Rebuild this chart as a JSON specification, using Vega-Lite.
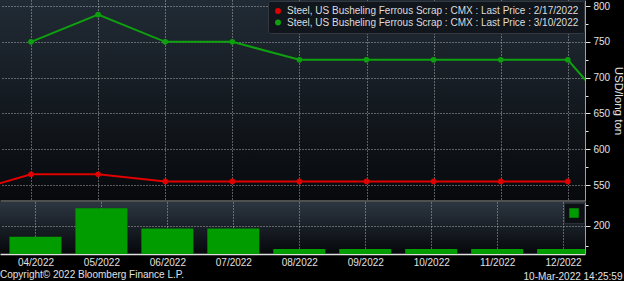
{
  "$schema": "https://vega.github.io/schema/vega-lite/v6.json",
  "background": "#000000",
  "padding": 0,
  "spacing": 1,
  "datasets": {
    "prices": [
      {"m": 3, "series": "Steel, US Busheling Ferrous Scrap : CMX : Last Price : 2/17/2022", "price": 538},
      {"m": 4, "series": "Steel, US Busheling Ferrous Scrap : CMX : Last Price : 2/17/2022", "price": 565},
      {"m": 5, "series": "Steel, US Busheling Ferrous Scrap : CMX : Last Price : 2/17/2022", "price": 565},
      {"m": 6, "series": "Steel, US Busheling Ferrous Scrap : CMX : Last Price : 2/17/2022", "price": 555},
      {"m": 7, "series": "Steel, US Busheling Ferrous Scrap : CMX : Last Price : 2/17/2022", "price": 555},
      {"m": 8, "series": "Steel, US Busheling Ferrous Scrap : CMX : Last Price : 2/17/2022", "price": 555},
      {"m": 9, "series": "Steel, US Busheling Ferrous Scrap : CMX : Last Price : 2/17/2022", "price": 555},
      {"m": 10, "series": "Steel, US Busheling Ferrous Scrap : CMX : Last Price : 2/17/2022", "price": 555},
      {"m": 11, "series": "Steel, US Busheling Ferrous Scrap : CMX : Last Price : 2/17/2022", "price": 555},
      {"m": 12, "series": "Steel, US Busheling Ferrous Scrap : CMX : Last Price : 2/17/2022", "price": 555},
      {"m": 4, "series": "Steel, US Busheling Ferrous Scrap : CMX : Last Price : 3/10/2022", "price": 750},
      {"m": 5, "series": "Steel, US Busheling Ferrous Scrap : CMX : Last Price : 3/10/2022", "price": 788},
      {"m": 6, "series": "Steel, US Busheling Ferrous Scrap : CMX : Last Price : 3/10/2022", "price": 750},
      {"m": 7, "series": "Steel, US Busheling Ferrous Scrap : CMX : Last Price : 3/10/2022", "price": 750},
      {"m": 8, "series": "Steel, US Busheling Ferrous Scrap : CMX : Last Price : 3/10/2022", "price": 725},
      {"m": 9, "series": "Steel, US Busheling Ferrous Scrap : CMX : Last Price : 3/10/2022", "price": 725},
      {"m": 10, "series": "Steel, US Busheling Ferrous Scrap : CMX : Last Price : 3/10/2022", "price": 725},
      {"m": 11, "series": "Steel, US Busheling Ferrous Scrap : CMX : Last Price : 3/10/2022", "price": 725},
      {"m": 12, "series": "Steel, US Busheling Ferrous Scrap : CMX : Last Price : 3/10/2022", "price": 725},
      {"m": 13, "series": "Steel, US Busheling Ferrous Scrap : CMX : Last Price : 3/10/2022", "price": 617}
    ],
    "volume": [
      {"m": 4, "s": "volume", "v": 173},
      {"m": 5, "s": "volume", "v": 243},
      {"m": 6, "s": "volume", "v": 193},
      {"m": 7, "s": "volume", "v": 193},
      {"m": 8, "s": "volume", "v": 143},
      {"m": 9, "s": "volume", "v": 143},
      {"m": 10, "s": "volume", "v": 143},
      {"m": 11, "s": "volume", "v": 143},
      {"m": 12, "s": "volume", "v": 143}
    ]
  },
  "config": {
    "font": "Liberation Sans",
    "view": {"stroke": null},
    "axis": {
      "labelColor": "#e0e0e0",
      "labelFont": "Liberation Sans",
      "labelFontSize": 10,
      "gridColor": "#c8c8c8",
      "gridDash": [1, 2],
      "domainColor": "#a0a0a0",
      "tickColor": "#e8e8e8",
      "titleColor": "#e0e0e0",
      "titleFont": "Liberation Sans",
      "titleFontWeight": "normal"
    }
  },
  "title": {
    "text": "Copyright© 2022 Bloomberg Finance L.P.",
    "orient": "bottom",
    "anchor": "start",
    "offset": -11,
    "fontSize": 10,
    "fontWeight": "normal",
    "color": "#e0e0e0",
    "font": "Liberation Sans"
  },
  "resolve": {"scale": {"color": "independent"}, "legend": {"color": "independent"}},
  "vconcat": [
    {
      "width": 585,
      "height": 201,
      "view": {"fill": {"gradient": "linear", "x1": 0, "y1": 0, "x2": 0, "y2": 1, "stops": [{"offset": 0, "color": "#212b35"}, {"offset": 1, "color": "#07090c"}]}},
      "data": {"name": "prices"},
      "encoding": {
        "x": {"field": "m", "type": "quantitative",
          "scale": {"domain": [3.538, 12.256], "nice": false, "zero": false},
          "axis": {"values": [4, 5, 6, 7, 8, 9, 10, 11, 12], "labels": false, "ticks": false, "title": null, "domainColor": "#505050", "domainWidth": 3, "grid": true, "gridOpacity": 0.85}},
        "y": {"field": "price", "type": "quantitative",
          "scale": {"domain": [527.7, 808.4], "nice": false, "zero": false},
          "axis": {"orient": "right", "values": [550, 575, 600, 625, 650, 675, 700, 725, 750, 775, 800],
            "labelExpr": "datum.value % 50 === 0 ? datum.label : ''",
            "title": "USD/long ton", "titleFontSize": 11.5, "titlePadding": 3,
            "labelPadding": 3,
            "gridOpacity": {"condition": {"test": "datum.value % 50 !== 0", "value": 0}, "value": 0.85},
            "tickSize": {"condition": {"test": "datum.value % 50 !== 0", "value": 3}, "value": 5}}},
        "color": {"field": "series", "type": "nominal",
          "scale": {"domain": ["Steel, US Busheling Ferrous Scrap : CMX : Last Price : 2/17/2022", "Steel, US Busheling Ferrous Scrap : CMX : Last Price : 3/10/2022"], "range": ["#e00000", "#0ea00e"]},
          "legend": {"orient": "top-right", "offset": 1, "title": null, "fillColor": "#11161c", "strokeColor": "#33383e", "padding": 5, "cornerRadius": 2,
            "labelColor": "#dcdcdc", "labelFont": "Liberation Sans", "labelFontSize": 10, "labelLimit": 0,
            "symbolType": "circle", "symbolSize": 35, "rowPadding": 1.5, "symbolStrokeWidth": 0, "symbolFillColor": "#888888",
            "encode": {"symbols": {"update": {"fill": {"signal": "datum.value === 'Steel, US Busheling Ferrous Scrap : CMX : Last Price : 2/17/2022' ? '#e00000' : '#0ea00e'"}}}}}}
      },
      "layer": [
        {
          "mark": {"type": "point", "clip": true, "filled": true, "size": 32, "opacity": 1}
        },
        {
          "mark": {"type": "line", "clip": true, "strokeWidth": 2}
        }
      ]
    },
    {
      "width": 585,
      "height": 52,
      "view": {"fill": {"gradient": "linear", "x1": 0, "y1": 0, "x2": 0, "y2": 1, "stops": [{"offset": 0, "color": "#2c3641"}, {"offset": 1, "color": "#05070a"}]}},
      "data": {"name": "volume"},
      "mark": {"type": "bar", "clip": true, "width": 52},
      "encoding": {
        "x": {"field": "m", "type": "quantitative",
          "scale": {"domain": [3.538, 12.256], "nice": false, "zero": false},
          "axis": {"values": [4, 5, 6, 7, 8, 9, 10, 11, 12],
            "labelExpr": "(datum.value < 10 ? '0' : '') + datum.value + '/2022'",
            "ticks": false, "domainColor": "#e0e0e0", "domainWidth": 1.5, "labelPadding": 3,
            "grid": true, "gridOpacity": 0.85,
            "title": "10-Mar-2022 14:25:59", "titleX": 622, "titleY": 25, "titleAlign": "right", "titleBaseline": "alphabetic", "titleFontSize": 10}},
        "y": {"field": "v", "type": "quantitative",
          "scale": {"domain": [131, 258], "nice": false, "zero": false},
          "axis": {"orient": "right", "values": [150, 200, 250],
            "labelExpr": "datum.value === 200 ? datum.label : ''",
            "title": null, "labelPadding": 3,
            "gridOpacity": {"condition": {"test": "datum.value !== 200", "value": 0}, "value": 0.85},
            "tickSize": {"condition": {"test": "datum.value !== 200", "value": 3}, "value": 5}}},
        "y2": {"datum": 131},
        "color": {"field": "s", "type": "nominal", "scale": {"range": ["#009c00"]},
          "legend": {"orient": "top-right", "offset": 1, "title": null, "fillColor": "#0c1014", "strokeColor": "#2a2f35", "padding": 5,
            "labelExpr": "''", "labelLimit": 1, "labelOffset": 0, "symbolType": "square", "symbolSize": 90, "symbolStrokeWidth": 0}}
      }
    }
  ]
}
